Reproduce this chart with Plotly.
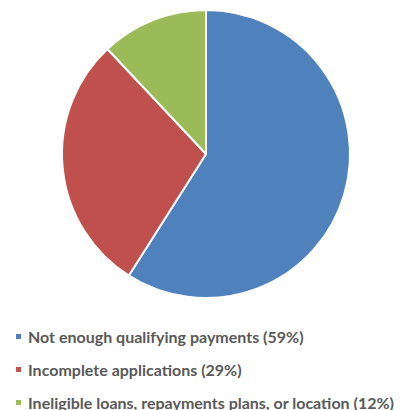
import plotly.graph_objects as go

labels = ["Not enough qualifying payments", "Incomplete applications",
          "Ineligible loans, repayments plans, or location"]
values = [59, 29, 12]
colors = ["#4F81BD", "#C0504D", "#9BBB59"]

OFF = 8  # page body margin
W, H = 408 - OFF, 410 - OFF

def px(x):
    return (x - OFF) / W

def py(y):
    return 1 - (y - OFF) / H

fig = go.Figure(go.Pie(
    labels=labels, values=values, sort=False, direction="clockwise", rotation=0,
    marker=dict(colors=colors, line=dict(color="white", width=2)),
    textinfo="none", hoverinfo="label+percent", showlegend=False,
    domain=dict(x=[px(62), px(350)], y=[py(298), py(10)]),
))

row_y = [336, 369, 402]
shapes, annotations = [], []
for lab, val, col, y in zip(labels, values, colors, row_y):
    shapes.append(dict(type="rect", xref="paper", yref="paper",
                       x0=px(16), x1=px(21), y0=py(y + 3), y1=py(y - 2),
                       fillcolor=col, line=dict(width=0)))
    annotations.append(dict(xref="paper", yref="paper", x=px(26), y=py(y),
                            xanchor="left", yanchor="middle", showarrow=False,
                            text=f"<b>{lab} ({val}%)</b>",
                            font=dict(family="Lato", size=16, color="#595959")))

fig.update_layout(width=W, height=H, margin=dict(l=0, r=0, t=0, b=0),
                  paper_bgcolor="white", plot_bgcolor="white",
                  shapes=shapes, annotations=annotations)
fig.write_html("out.html")
